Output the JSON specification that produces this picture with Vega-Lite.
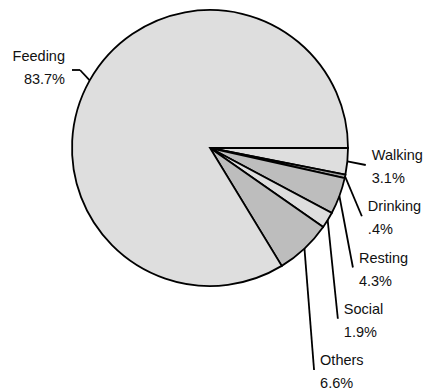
{
  "$schema": "https://vega.github.io/schema/vega-lite/v6.json",
  "width": 276,
  "height": 276,
  "autosize": {"type": "none"},
  "padding": {"left": 72, "top": 10, "right": 77, "bottom": 106},
  "background": "white",
  "config": {"view": {"stroke": null}},
  "data": {
    "values": [
      {"activity": "Walking", "pct": 3.1, "order": 1},
      {"activity": "Drinking", "pct": 0.4, "order": 2},
      {"activity": "Resting", "pct": 4.3, "order": 3},
      {"activity": "Social", "pct": 1.9, "order": 4},
      {"activity": "Others", "pct": 6.6, "order": 5},
      {"activity": "Feeding", "pct": 83.7, "order": 6}
    ]
  },
  "layer": [
    {
      "mark": {"type": "arc", "stroke": "black", "strokeWidth": 1.8},
      "encoding": {
        "theta": {"field": "pct", "type": "quantitative", "stack": true, "scale": {"range": [1.5708, 7.854]}},
        "order": {"field": "order", "type": "quantitative"},
        "color": {
          "field": "activity",
          "type": "nominal",
          "scale": {
            "domain": ["Walking", "Drinking", "Resting", "Social", "Others", "Feeding"],
            "range": ["#dedede", "#a0a0a0", "#bdbdbd", "#dedede", "#bdbdbd", "#dedede"]
          },
          "legend": null
        }
      }
    },
    {
      "transform": [
        {"window": [{"op": "sum", "field": "pct", "as": "cum"}], "sort": [{"field": "order"}], "frame": [null, 0]},
        {"calculate": "(datum.cum - datum.pct/2)/100*2*PI + PI/2", "as": "mid"},
        {"calculate": "sin(datum.mid)", "as": "ex"},
        {"calculate": "cos(datum.mid)", "as": "ey"},
        {"calculate": "17 + 51.25*(datum.order-1)", "as": "drop"},
        {"calculate": "datum.order == 6 ? -130/138 : 156*sqrt(1 - pow(datum.drop/298, 2))/138", "as": "lx"},
        {"calculate": "datum.order == 6 ? 78/138 : -datum.drop/138", "as": "ly"},
        {"calculate": "datum.order == 6 ? -1 : datum.lx", "as": "tx"},
        {"calculate": "datum.order == 6 ? -145/138 : datum.lx + 6/138", "as": "labx"},
        {"calculate": "datum.order == 6 ? 91/138 : datum.ly + 9/138", "as": "laby"},
        {"calculate": "[datum.activity, (datum.pct < 1 ? substring(format(datum.pct, '.1f'), 1) : format(datum.pct, '.1f')) + '%']", "as": "lines"}
      ],
      "layer": [
        {
          "mark": {"type": "rule", "color": "black", "strokeWidth": 1.8},
          "encoding": {
            "x": {"field": "ex", "type": "quantitative", "scale": {"domain": [-1, 1], "nice": false, "zero": false}, "axis": null},
            "y": {"field": "ey", "type": "quantitative", "scale": {"domain": [-1, 1], "nice": false, "zero": false}, "axis": null},
            "x2": {"field": "lx"},
            "y2": {"field": "ly"}
          }
        },
        {
          "mark": {"type": "rule", "color": "black", "strokeWidth": 1.8},
          "encoding": {
            "x": {"field": "lx", "type": "quantitative", "scale": {"domain": [-1, 1], "nice": false, "zero": false}, "axis": null},
            "y": {"field": "ly", "type": "quantitative", "scale": {"domain": [-1, 1], "nice": false, "zero": false}, "axis": null},
            "x2": {"field": "tx"},
            "y2": {"field": "ly"}
          }
        },
        {
          "transform": [{"filter": "datum.order < 6"}],
          "mark": {"type": "text", "align": "left", "baseline": "middle", "lineHeight": 23, "fontSize": 14.5, "font": "Liberation Sans", "color": "#111"},
          "encoding": {
            "x": {"field": "labx", "type": "quantitative", "scale": {"domain": [-1, 1], "nice": false, "zero": false}, "axis": null},
            "y": {"field": "laby", "type": "quantitative", "scale": {"domain": [-1, 1], "nice": false, "zero": false}, "axis": null},
            "text": {"field": "lines"}
          }
        },
        {
          "transform": [{"filter": "datum.order == 6"}],
          "mark": {"type": "text", "align": "right", "baseline": "middle", "lineHeight": 23, "fontSize": 14.5, "font": "Liberation Sans", "color": "#111"},
          "encoding": {
            "x": {"field": "labx", "type": "quantitative", "scale": {"domain": [-1, 1], "nice": false, "zero": false}, "axis": null},
            "y": {"field": "laby", "type": "quantitative", "scale": {"domain": [-1, 1], "nice": false, "zero": false}, "axis": null},
            "text": {"field": "lines"}
          }
        }
      ]
    }
  ]
}
